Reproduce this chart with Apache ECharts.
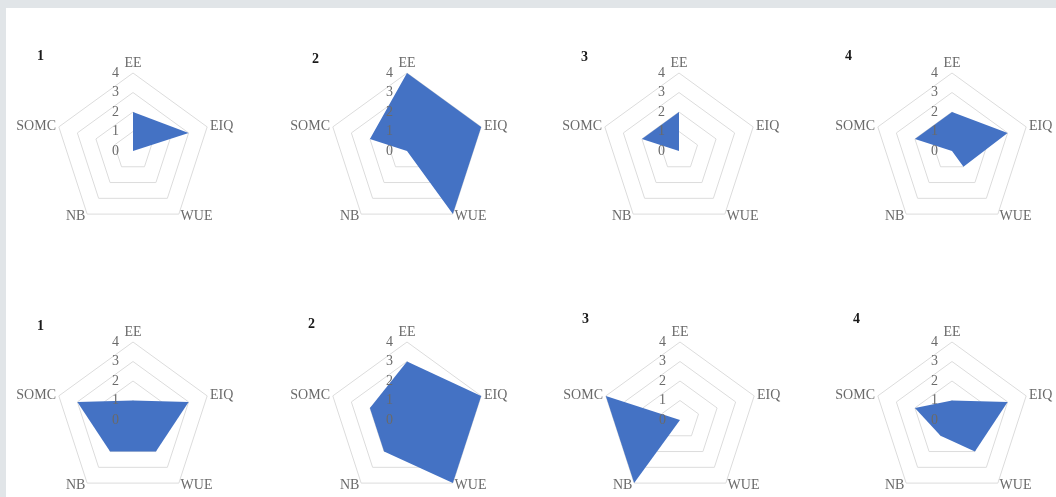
<!DOCTYPE html>
<html>
<head>
<meta charset="utf-8">
<script src="https://cdn.jsdelivr.net/npm/echarts@6/dist/echarts.min.js"></script>
<style>
html,body{margin:0;padding:0;width:1056px;height:497px;overflow:hidden;background:#e1e5e8;}
#paper{position:absolute;left:6px;top:8px;right:0;bottom:0;background:#ffffff;}
#chart{position:absolute;left:0;top:0;width:1056px;height:497px;}
</style>
</head>
<body>
<div id="paper"></div>
<div id="chart"></div>
<script>
// ---- data ----
const categories = ['EE', 'EIQ', 'WUE', 'NB', 'SOMC'];
const tickLabels = ['0', '1', '2', '3', '4'];
const panelTitles = ['1', '2', '3', '4', '1', '2', '3', '4'];
const top1 = [2, 3, 0, 0, 0];
const top2 = [4, 4, 4, 0, 2];
const top3 = [2, 0, 0, 0, 2];
const top4 = [2, 3, 1, 0, 2];
const bottom1 = [1, 3, 2, 2, 3];
const bottom2 = [3, 4, 4, 2, 2];
const bottom3 = [0, 0, 0, 4, 4];
const bottom4 = [1, 3, 2, 1, 2];
const panelValues = [top1, top2, top3, top4, bottom1, bottom2, bottom3, bottom4];

// ECharts lays indicators out counter-clockwise; the reference runs clockwise.
const order = [0, 4, 3, 2, 1];

// ---- layout ----
const centers = [[133,151],[407,151],[679,151],[952,151],[133,420],[407,420],[680,420],[952,420]];
const titlePos = [[37,49],[312,52],[581,50],[845,49],[37,319],[308,317],[582,312],[853,312]];
const R = 78;
const grayText = '#6a6a6a';
const serif = '"Liberation Serif", "DejaVu Serif", serif';

// grid radars (rings + names) drawn below the filled areas
const gridRadars = centers.map((c) => ({
  center: c,
  radius: R,
  startAngle: 90,
  shape: 'polygon',
  splitNumber: 4,
  z: 0,
  axisName: { color: grayText, fontFamily: serif, fontSize: 14 },
  nameGap: 3,
  axisLine: { show: false },
  axisTick: { show: false },
  splitArea: { show: false },
  splitLine: { lineStyle: { color: '#dcdcdc', width: 1 } },
  axisLabel: { show: false },
  indicator: order.map((idx) => ({ name: categories[idx], min: 0, max: 4 }))
}));

// label radars (tick labels only) drawn on top of the filled areas
const labelRadars = centers.map((c) => ({
  center: c,
  radius: R,
  startAngle: 90,
  shape: 'polygon',
  splitNumber: 4,
  z: 10,
  axisName: { show: false },
  axisLine: { show: false },
  axisTick: { show: false },
  splitArea: { show: false },
  splitLine: { show: false },
  axisLabel: { show: false },
  indicator: order.map((idx, i) => {
    const ind = { name: categories[idx], min: 0, max: 4 };
    if (i === 0) {
      ind.axisLabel = {
        show: true, color: grayText, fontFamily: serif, fontSize: 14,
        margin: 14, showMinLabel: true, showMaxLabel: true,
        formatter: (v) => tickLabels[Math.round(v)]
      };
    }
    return ind;
  })
}));

const series = panelValues.map((vals, k) => ({
  type: 'radar',
  radarIndex: k,
  symbol: 'none',
  silent: true,
  z: 2,
  lineStyle: { width: 0, color: '#4472c4' },
  areaStyle: { color: '#4472c4', opacity: 1 },
  data: [{ value: order.map((idx) => vals[idx]) }]
}));

const titles = panelTitles.map((t, k) => ({
  text: t,
  left: titlePos[k][0],
  top: titlePos[k][1],
  padding: 0,
  textStyle: { fontFamily: serif, fontSize: 14, fontWeight: 'bold', color: '#1a1a1a' }
}));

const chart = echarts.init(document.getElementById('chart'), null, { renderer: 'canvas' });
chart.setOption({
  animation: false,
  backgroundColor: 'transparent',
  title: titles,
  radar: gridRadars.concat(labelRadars),
  series: series
});
</script>
</body>
</html>
